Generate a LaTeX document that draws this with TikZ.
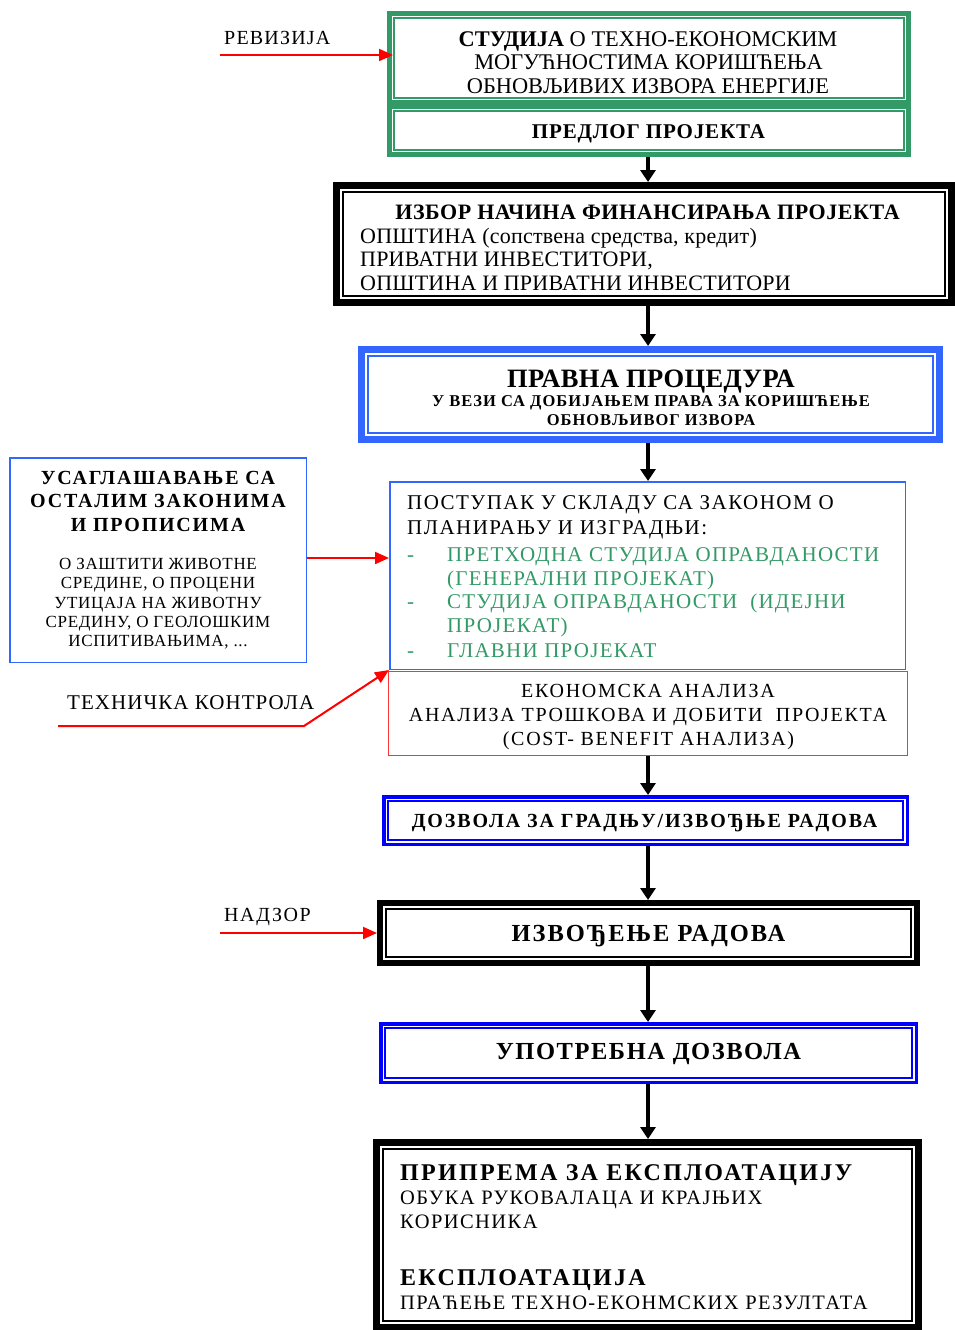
\documentclass[tikz,border=0pt]{standalone}
\usepackage{fontspec}
\setmainfont{Liberation Serif}
\usetikzlibrary{arrows.meta,calc}

\definecolor{frgreen}{HTML}{339966}
\definecolor{frblue}{HTML}{3366FF}
\definecolor{deepblue}{HTML}{0000FF}
\definecolor{arrred}{HTML}{FF0000}
\definecolor{boxred}{HTML}{FF3333}

% font size and letter spacing in one go
\newcommand{\fsz}[2]{\fontsize{#1}{#1}\selectfont\addfontfeature{LetterSpace=#2}}
% thin second line inside a framed box
\newcommand{\innerline}[4]{\draw[#2, line width=#3] ($(#1.north west)+(#4,#4)$) rectangle ($(#1.south east)-(#4,#4)$);}

\tikzset{
  box/.style={inner sep=0pt, rectangle},
  txt/.style={inner sep=0pt, anchor=base},
  ltxt/.style={inner sep=0pt, anchor=base west},
  flow/.style={line width=4.5pt, -{Triangle[width=15pt,length=12pt]}},
  hint/.style={draw=arrred, line width=2pt, -{Triangle[width=12pt,length=14pt]}},
}

\begin{document}
\begin{tikzpicture}[x=1pt, y=-1pt]
\path[use as bounding box, fill=white] (0,0) rectangle (954,1330);

% ---------- frames ----------
\node[box, draw=frgreen, line width=5pt, minimum width=519pt, minimum height=89pt] (stud) at (649,58) {};
\node[box, draw=frgreen, line width=5pt, minimum width=519pt, minimum height=48pt] (pred) at (649,130.5) {};
\innerline{stud}{frgreen}{1.2pt}{7}
\innerline{pred}{frgreen}{1.2pt}{7}

\node[box, draw=black, line width=7pt, minimum width=615pt, minimum height=117pt] (fin) at (644,244) {};
\innerline{fin}{black}{1.5pt}{10}

\node[box, draw=frblue, line width=7pt, minimum width=578pt, minimum height=90pt] (prav) at (650.5,394.5) {};
\innerline{prav}{frblue}{1.2pt}{10}

\node[box, draw=frblue, line width=1.5pt, minimum width=515.5pt, minimum height=187.5pt] (post) at (647.5,575.5) {};
\node[box, draw=boxred, line width=1.3pt, minimum width=518.5pt, minimum height=83.5pt] (ekon) at (648,713.5) {};

\node[box, draw=deepblue, line width=3.5pt, minimum width=523.5pt, minimum height=47.5pt] (dozv) at (645.5,820.5) {};
\innerline{dozv}{deepblue}{1.5pt}{6}

\node[box, draw=black, line width=6pt, minimum width=537pt, minimum height=60pt] (izv) at (648.5,933) {};
\innerline{izv}{black}{1.2pt}{9}

\node[box, draw=deepblue, line width=3.5pt, minimum width=535.5pt, minimum height=58.5pt] (upot) at (648.5,1053) {};
\innerline{upot}{deepblue}{1.5pt}{6}

\node[box, draw=black, line width=7pt, minimum width=542pt, minimum height=185pt] (ekspl) at (647.5,1235) {};
\innerline{ekspl}{black}{1.5pt}{10}

\node[box, draw=frblue, line width=1.5pt, minimum width=296.5pt, minimum height=204.5pt] (usag) at (158,560) {};

% ---------- texts ----------
\node[txt] (s1) at (648,46.5) {\fsz{22.4}{0}{\bfseries СТУДИЈА} О ТЕХНО-ЕКОНОМСКИМ};
\node[txt] (s2) at (648.5,69.5) {\fsz{22.4}{0}МОГУЋНОСТИМА КОРИШЋЕЊА};
\node[txt] (s3) at (648,93.5) {\fsz{22.4}{0}ОБНОВЉИВИХ ИЗВОРА ЕНЕРГИЈЕ};
\node[txt] (p1) at (648.5,138) {\fsz{21}{4}\bfseries ПРЕДЛОГ ПРОЈЕКТА};

\node[txt] (f0) at (647.5,219.5) {\fsz{22}{2.5}\bfseries ИЗБОР НАЧИНА ФИНАНСИРАЊА ПРОЈЕКТА};
\node[ltxt] (f1) at (360,243.5) {\fsz{22}{1}ОПШТИНА (сопствена средства, кредит)};
\node[ltxt] (f2) at (360,266.5) {\fsz{22}{1}ПРИВАТНИ ИНВЕСТИТОРИ,};
\node[ltxt] (f3) at (360,290.5) {\fsz{22}{1}ОПШТИНА И ПРИВАТНИ ИНВЕСТИТОРИ};

\node[txt] (r0) at (651,387) {\fsz{26.5}{1.5}\bfseries ПРАВНА ПРОЦЕДУРА};
\node[txt] (r1) at (651,406.5) {\fsz{16.5}{6}\bfseries У ВЕЗИ СА ДОБИЈАЊЕМ ПРАВА ЗА КОРИШЋЕЊЕ};
\node[txt] (r2) at (651,425.5) {\fsz{16.5}{6}\bfseries ОБНОВЉИВОГ ИЗВОРА};

\node[ltxt] (q1) at (407,509) {\fsz{21}{7}ПОСТУПАК У СКЛАДУ СА ЗАКОНОМ О};
\node[ltxt] (q2) at (407,534) {\fsz{21}{7}ПЛАНИРАЊУ И ИЗГРАДЊИ:};
\node[ltxt, text=frgreen] (d1) at (407,561) {\fsz{21}{0}-};
\node[ltxt, text=frgreen] (g1) at (447,561) {\fsz{21}{6}ПРЕТХОДНА СТУДИЈА ОПРАВДАНОСТИ};
\node[ltxt, text=frgreen] (g2) at (447,585) {\fsz{21}{6}(ГЕНЕРАЛНИ ПРОЈЕКАТ)};
\node[ltxt, text=frgreen] (d2) at (407,608) {\fsz{21}{0}-};
\node[ltxt, text=frgreen] (g3) at (447,608) {\fsz{21}{6}СТУДИЈА ОПРАВДАНОСТИ \ (ИДЕЈНИ};
\node[ltxt, text=frgreen] (g4) at (447,632) {\fsz{21}{6}ПРОЈЕКАТ)};
\node[ltxt, text=frgreen] (d3) at (407,657) {\fsz{21}{0}-};
\node[ltxt, text=frgreen] (g5) at (447,657) {\fsz{21}{6}ГЛАВНИ ПРОЈЕКАТ};

\node[txt] (e1) at (648,697.5) {\fsz{20}{8.5}ЕКОНОМСКА АНАЛИЗА};
\node[txt] (e2) at (648,721.5) {\fsz{20}{8.5}АНАЛИЗА ТРОШКОВА И ДОБИТИ \ ПРОЈЕКТА};
\node[txt] (e3) at (648.5,745.5) {\fsz{20}{8.5}(COST- BENEFIT АНАЛИЗА)};

\node[txt] (z1) at (644.5,827.5) {\fsz{20}{9.5}\bfseries ДОЗВОЛА ЗА ГРАДЊУ/ИЗВОЂЊЕ РАДОВА};
\node[txt] (i1) at (648.5,941) {\fsz{24.5}{8}\bfseries ИЗВОЂЕЊЕ РАДОВА};
\node[txt] (u1) at (648.5,1059) {\fsz{24.5}{6.4}\bfseries УПОТРЕБНА ДОЗВОЛА};

\node[ltxt] (k1) at (400,1180) {\fsz{24}{9.5}\bfseries ПРИПРЕМА ЗА ЕКСПЛОАТАЦИЈУ};
\node[ltxt] (k2) at (400,1204) {\fsz{20.5}{7}ОБУКА РУКОВАЛАЦА И КРАЈЊИХ};
\node[ltxt] (k3) at (400,1228) {\fsz{20.5}{7}КОРИСНИКА};
\node[ltxt] (k4) at (400,1285) {\fsz{24}{9.5}\bfseries ЕКСПЛОАТАЦИЈА};
\node[ltxt] (k5) at (400,1309) {\fsz{20.5}{7}ПРАЋЕЊЕ ТЕХНО-ЕКОНМСКИХ РЕЗУЛТАТА};

\node[txt] (l1) at (158,484.5) {\fsz{20}{9}\bfseries УСАГЛАШАВАЊЕ СА};
\node[txt] (l2) at (158,507.5) {\fsz{20}{9}\bfseries ОСТАЛИМ ЗАКОНИМА};
\node[txt] (l3) at (158,531.5) {\fsz{20}{9}\bfseries И ПРОПИСИМА};
\node[txt] (l4) at (158,569.5) {\fsz{17}{4}О ЗАШТИТИ ЖИВОТНЕ};
\node[txt] (l5) at (158,588.5) {\fsz{17}{4}СРЕДИНЕ, О ПРОЦЕНИ};
\node[txt] (l6) at (158,608.5) {\fsz{17}{4}УТИЦАЈА НА ЖИВОТНУ};
\node[txt] (l7) at (158,627.5) {\fsz{17}{4}СРЕДИНУ, О ГЕОЛОШКИМ};
\node[txt] (l8) at (158,646.5) {\fsz{17}{4}ИСПИТИВАЊИМА, ...};

\node[ltxt] (rev) at (224,44.5) {\fsz{20}{6}РЕВИЗИЈА};
\node[ltxt] (tk) at (67,709) {\fsz{21}{5}ТЕХНИЧКА КОНТРОЛА};
\node[ltxt] (nad) at (224,921.5) {\fsz{20}{8}НАДЗОР};

% ---------- main flow ----------
\coordinate (axis) at (648,0);
\draw[flow] (pred.south -| axis) -- (fin.north -| axis);
\draw[flow] (fin.south -| axis) -- (prav.north -| axis);
\draw[flow] (prav.south -| axis) -- (post.north -| axis);
\draw[flow] (ekon.south -| axis) -- (dozv.north -| axis);
\draw[flow] (dozv.south -| axis) -- (izv.north -| axis);
\draw[flow] (izv.south -| axis) -- (upot.north -| axis);
\draw[flow] (upot.south -| axis) -- (ekspl.north -| axis);

% ---------- side inputs ----------
\coordinate (revS) at (220,55);
\coordinate (revE) at (393,55);
\draw[hint] (revS) -- (revE);

\coordinate (usagY) at (0,558);
\draw[hint] (usag.east |- usagY) -- (post.west |- usagY);

\coordinate (tkS) at (58,726);
\coordinate (tkK) at (304,726);
\draw[hint] (tkS) -- (tkK) -- (post.south west);

\coordinate (nadS) at (220,933);
\draw[hint] (nadS) -- (nadS -| izv.west);
\end{tikzpicture}
\end{document}
